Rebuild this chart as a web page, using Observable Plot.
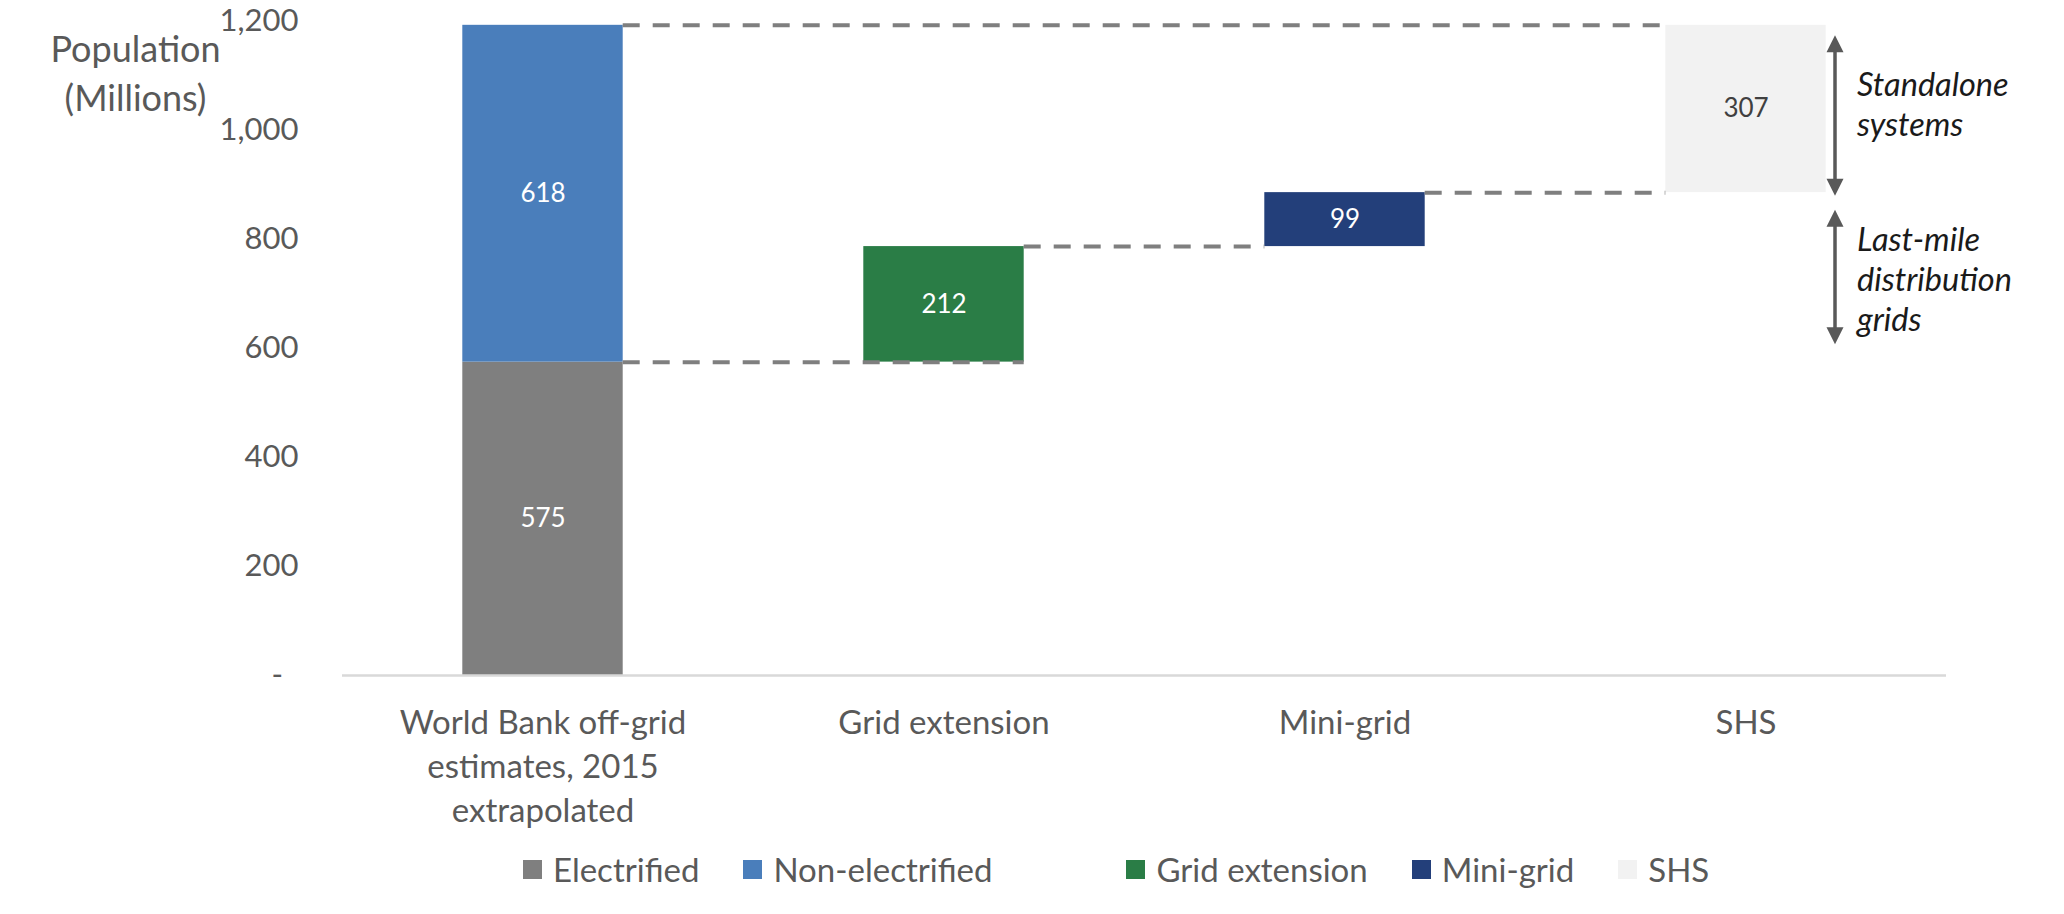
<!DOCTYPE html>
<html>
<head>
<meta charset="utf-8">
<script src="https://cdn.jsdelivr.net/npm/d3@7"></script>
<script src="https://cdn.jsdelivr.net/npm/@observablehq/plot@0.6"></script>
<style>
html, body { margin: 0; padding: 0; background: #fff; }
#chart svg { display: block; }
#legend { display: flex; align-items: center; height: 44px; padding-left: 523px; font-family: Lato, sans-serif; font-size: 33px; color: #595959; line-height: 1; }
#legend .item { display: flex; align-items: center; margin-right: 44px; }
#legend .sw { width: 19px; height: 19px; margin-right: 11px; }
#legend .spacer { width: 90px; }
</style>
</head>
<body>
<div id="chart"></div>
<div id="legend"></div>
<script>
// ---- data ----
const categories = ["World Bank off-grid estimates, 2015 extrapolated", "Grid extension", "Mini-grid", "SHS"];
const categoryLabels = ["World Bank off-grid\nestimates, 2015\nextrapolated", "Grid extension", "Mini-grid", "SHS"];
const seriesNames = ["Electrified", "Non-electrified", "Grid extension", "Mini-grid", "SHS"];
const seriesCategory = [0, 0, 1, 2, 3];
const seriesValues = [575, 618, 212, 99, 307];
const yTicks = [0, 200, 400, 600, 800, 1000, 1200];
const yTitle = "Population\n(Millions)";
const annotationTexts = ["Standalone\nsystems", "Last-mile\ndistribution\ngrids"];
const annotationSeries = [["SHS"], ["Grid extension", "Mini-grid"]];
const legendOrder = ["Electrified", "Non-electrified", null, "Grid extension", "Mini-grid", "SHS"];

// ---- styles ----
const seriesColors = ["#7f7f7f", "#4a7ebb", "#2a7d46", "#233f7a", "#f2f2f2"];
const half = 0.2;            // half bar width in category units
const arrowDx = 89;          // px right of last bar centre
const textDx = 111;
const arrowOffsets = [[10, 3], [17, -18]];
const textDy = [-6, 1];
const headR = 8.5;
const arrowUp = {draw(ctx, size) { const r = Math.sqrt(size / Math.PI); ctx.moveTo(0, -2 * r); ctx.lineTo(r, 0); ctx.lineTo(-r, 0); ctx.closePath(); }};
const arrowDown = {draw(ctx, size) { const r = Math.sqrt(size / Math.PI); ctx.moveTo(0, 2 * r); ctx.lineTo(r, 0); ctx.lineTo(-r, 0); ctx.closePath(); }};

// ---- waterfall segments ----
const segments = [];
let stackTop = 0, level = 0;
seriesNames.forEach((name, i) => {
  const cat = seriesCategory[i], v = seriesValues[i];
  let y1, y2;
  if (cat === 0) { y1 = stackTop; y2 = stackTop + v; stackTop = y2; if (i === 0) level = y2; }
  else { y1 = level; y2 = level + v; level = y2; }
  segments.push({name, cat, value: v, y1, y2, color: seriesColors[i]});
});
const total = stackTop;
const bySeries = Object.fromEntries(segments.map(d => [d.name, d]));
const steps = segments.filter(d => d.cat > 0);
const lastCat = categories.length - 1;

const connectors = [{y: total, x1: 0 + half, x2: lastCat - half}];
steps.forEach((d, k) => {
  const x1 = (k === 0 ? 0 : steps[k - 1].cat) + half;
  const x2 = k === 0 ? d.cat + half : d.cat - half;
  connectors.push({y: d.y1, x1, x2});
});

const annotations = annotationSeries.map((names, i) => {
  const segs = names.map(n => bySeries[n]);
  return {text: annotationTexts[i], lo: d3.min(segs, d => d.y1), hi: d3.max(segs, d => d.y2), x: lastCat};
});

const isLight = c => d3.lab(c).l > 60;

const chart = Plot.plot({
  width: 2064, height: 847,
  marginLeft: 342, marginRight: 118, marginTop: 21, marginBottom: 172,
  x: {domain: [-0.5, categories.length - 0.5]},
  y: {domain: [0, 1200]},
  color: {domain: seriesNames, range: seriesColors},
  style: {fontFamily: "Lato, sans-serif", background: "white", color: "#595959", overflow: "visible"},
  marks: [
    Plot.axisY(yTicks, {tickSize: 0, tickPadding: 44, tickFormat: d => d === 0 ? "-\u2002" : d3.format(",")(d), fontSize: 31, color: "#595959", label: null}),
    Plot.axisX(d3.range(categories.length), {tickSize: 0, tickPadding: 27, tickFormat: i => categoryLabels[i], fontSize: 33, lineHeight: 1.34, color: "#595959", label: null}),
    Plot.rect(segments, {x1: d => d.cat - half, x2: d => d.cat + half, y1: "y1", y2: "y2", fill: "name"}),
    Plot.ruleY([0], {stroke: "#d9d9d9", strokeWidth: 2.5}),
    Plot.ruleY(connectors, {y: "y", x1: "x1", x2: "x2", stroke: "#7f7f7f", strokeWidth: 4, strokeDasharray: "17,13"}),
    Plot.text(segments.filter(d => !isLight(d.color)), {x: "cat", y: d => (d.y1 + d.y2) / 2, text: "value", fill: "white", fontSize: 26}),
    Plot.text(segments.filter(d => isLight(d.color)), {x: "cat", y: d => (d.y1 + d.y2) / 2, text: "value", fill: "#404040", fontSize: 26}),
    ...annotations.flatMap((a, i) => {
      const [tOff, bOff] = arrowOffsets[i];
      return [
        Plot.ruleX([a], {x: "x", y1: "hi", y2: "lo", dx: arrowDx, stroke: "#595959", strokeWidth: 3.5, insetTop: tOff + 8, insetBottom: -bOff + 8}),
        Plot.dot([a], {x: "x", y: "hi", dx: arrowDx, dy: tOff + 2 * headR, symbol: arrowUp, r: headR, fill: "#595959", stroke: "none"}),
        Plot.dot([a], {x: "x", y: "lo", dx: arrowDx, dy: bOff - 2 * headR, symbol: arrowDown, r: headR, fill: "#595959", stroke: "none"}),
        Plot.text([a], {x: "x", y: d => (d.lo + d.hi) / 2, text: "text", dx: textDx, dy: textDy[i], textAnchor: "start", lineAnchor: "middle", fontSize: 32.5, fontStyle: "italic", lineHeight: 1.23, fill: "#1a1a1a"})
      ];
    }),
    Plot.text([yTitle], {frameAnchor: "top-left", dx: -207, dy: 6, textAnchor: "middle", lineAnchor: "top", fontSize: 36, lineHeight: 1.35, fill: "#595959"})
  ]
});
document.getElementById("chart").append(chart);

const legend = document.getElementById("legend");
legendOrder.forEach(name => {
  if (name === null) { const s = document.createElement("div"); s.className = "spacer"; legend.append(s); return; }
  const item = document.createElement("div"); item.className = "item";
  const sw = document.createElement("div"); sw.className = "sw";
  sw.style.background = seriesColors[seriesNames.indexOf(name)];
  const label = document.createElement("span"); label.textContent = name;
  item.append(sw, label);
  legend.append(item);
});
</script>
</body>
</html>
